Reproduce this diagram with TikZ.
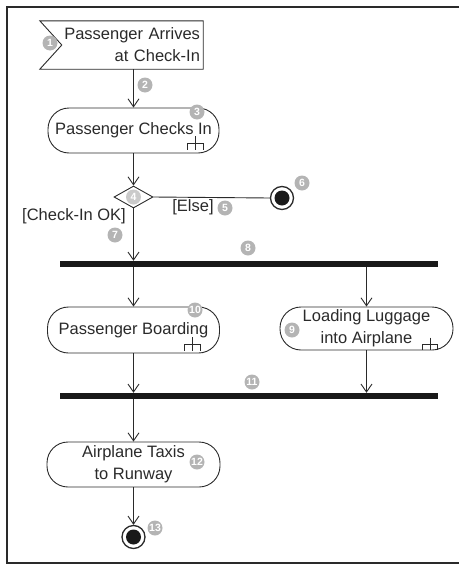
\documentclass[tikz,border=0pt]{standalone}
\usepackage{fontspec}
\setmainfont{Liberation Sans}
\usetikzlibrary{shapes.geometric,arrows.meta,calc}
\definecolor{ink}{HTML}{2A2A2A}
\definecolor{badge}{HTML}{B4B4B4}
\definecolor{badgelight}{HTML}{CACACA}
\begin{document}
\begin{tikzpicture}[x=1pt,y=-1pt,
  txt/.style={font=\fontsize{16.5}{22}\selectfont, text=ink},
  action/.style={txt, draw=ink, line width=0.9, rounded corners=21, inner sep=0, align=center},
  num/.style={circle, fill=badge, text=white, inner sep=0, minimum size=15,
              font=\fontsize{10.5}{10.5}\selectfont\bfseries},
  bar/.style={fill=black!90, inner sep=0, minimum width=378, minimum height=6},
  final/.style={circle, draw=ink, line width=1.3, fill=white, minimum size=23, inner sep=0,
                path picture={\fill[black!90] (path picture bounding box.center) circle (7.5pt);}},
  flow/.style={draw=ink, line width=0.9, -{Straight Barb[length=8,width=11]}},
  plain/.style={draw=ink, line width=0.9},
  rake/.pic={\draw[ink, line width=0.9] (0,-7) -- (0,7) (-8,0) -- (8,0) (-8,0) -- (-8,7) (8,0) -- (8,7);}
]
\useasboundingbox (0,0) rectangle (459,565);
% frame (open on the right)
\draw[ink, line width=1.6] (459,7) -- (7,7) -- (7,563) -- (459,563);

% accept-event signal
\node[txt, minimum height=48, text width=157, inner sep=3, align=right] (arrive) at (121.5,45)
  {Passenger Arrives\\at Check-In};
\draw[ink, line width=0.9] (arrive.north west) -- (arrive.north east) -- (arrive.south east)
  -- (arrive.south west) -- ($(arrive.west)+(22,0)$) -- cycle;

% actions
\node[action, minimum width=171, minimum height=45] (checks) at (133.5,130.5) {Passenger Checks In};
\node[draw=ink, line width=0.9, diamond, minimum width=39, minimum height=22, inner sep=0] (choice) at (133.5,197) {};
\node[final] (abort) at (282,198) {};
\node[bar] (fork) at (249,264) {};
\node[action, minimum width=172, minimum height=46] (board) at (133.5,330) {Passenger Boarding};
\node[action, minimum width=173, minimum height=43] (luggage) at (366.5,328.5) {Loading Luggage\\into Airplane};
\node[bar] (join) at (249,396) {};
\node[action, minimum width=173, minimum height=45] (taxi) at (133.5,464.5) {Airplane Taxis\\to Runway};
\node[final] (done) at (133.5,537) {};

% guards
\node[txt] (elseg) at (193,207) {[Else]};
\node[txt] (okg) at (74,216) {[Check-In OK]};

% rakes (call-behaviour marks)
\pic at (195,143) {rake};
\pic at (192,344) {rake};
\pic[scale=0.9] at (430,344) {rake};

% connectors
\path[flow] (arrive.south -| checks.north) -- (checks.north);
\path[flow] (checks.south) -- (choice.north);
\path[plain] (choice.east) -- (abort.west);
\path[flow] (choice.south) -- (choice.south |- fork.north);
\path[flow] (fork.south -| board.north) -- (board.north);
\path[flow] (fork.south -| luggage.north) -- (luggage.north);
\path[flow] (board.south) -- (board.south |- join.north);
\path[flow] (luggage.south) -- (luggage.south |- join.north);
\path[flow] (join.south -| taxi.north) -- (taxi.north);
\path[flow] (taxi.south) -- (done.north);

% numbered badges
\node[num] (n1) at (50,43) {1};
\node[num] (n2) at (145,85) {2};
\node[num] (n3) at (197,112) {3};
\node[num, fill=badgelight] (n4) at (133.5,197) {4};
\node[num] (n5) at (225,208) {5};
\node[num] (n6) at (302,183) {6};
\node[num] (n7) at (115,235) {7};
\node[num] (n8) at (248,248) {8};
\node[num] (n9) at (292,330) {9};
\node[num] (n10) at (195,310) {10};
\node[num] (n11) at (252,382) {11};
\node[num] (n12) at (197,462) {12};
\node[num] (n13) at (155,528) {13};
\end{tikzpicture}
\end{document}
